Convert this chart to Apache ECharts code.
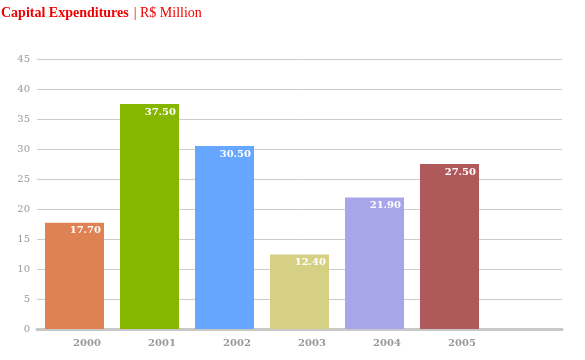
<!DOCTYPE html>
<html><head><meta charset="utf-8">
<script src="https://cdn.jsdelivr.net/npm/echarts@6/dist/echarts.min.js"></script>
<style>html,body{margin:0;padding:0;background:#fff}#c{width:585px;height:360px}</style>
</head><body><div id="c"></div>
<script>
const categories = ['2000','2001','2002','2003','2004','2005',''];
const values = [17.7, 37.5, 30.5, 12.4, 21.9, 27.5, null];
const barColors = ['#DE8254','#86B600','#66A6FF','#D6D085','#A6A6E9','#B0595B','#fff'];
const yTicks = [0,5,10,15,20,25,30,35,40,45];

const chart = echarts.init(document.getElementById('c'));
chart.setOption({
  animation:false,
  title:{
    text:'{a|Capital Expenditures} {b|| R$ Million}',
    left:0, top:0, padding:[4,0,0,1],
    textStyle:{rich:{
      a:{fontFamily:'Liberation Serif',fontWeight:'bold',fontSize:14,color:'#F00000'},
      b:{fontFamily:'Liberation Serif',fontWeight:'normal',fontSize:14,color:'#F00000'}
    }}
  },
  grid:{left:37,right:23,top:59,bottom:31,containLabel:false},
  xAxis:{
    type:'category', data:categories,
    axisLine:{lineStyle:{color:'#c8c8c8',width:3}},
    axisTick:{show:false},
    axisLabel:{color:'#999',fontFamily:'DejaVu Serif',fontWeight:'bold',fontSize:10,margin:9,padding:[0,0,0,25]}
  },
  yAxis:{
    type:'value', min:yTicks[0], max:yTicks[yTicks.length-1], interval:5,
    axisLine:{show:false}, axisTick:{show:false},
    splitLine:{lineStyle:{color:'#cccccc',width:1}},
    axisLabel:{color:'#999',fontFamily:'DejaVu Serif',fontSize:10,margin:7}
  },
  series:[{
    type:'bar', barWidth:59,
    data:values.map((v,i)=>({value:v,itemStyle:{color:barColors[i]}})),
    label:{show:true,position:'insideTopRight',distance:3,color:'#fff',
      fontFamily:'DejaVu Serif',fontWeight:'bold',fontSize:10,
      formatter:p=>p.value==null?'':p.value.toFixed(2)}
  }]
});
</script></body></html>
